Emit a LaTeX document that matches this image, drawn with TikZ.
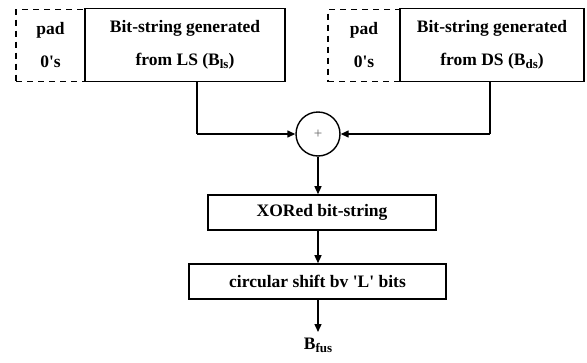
\documentclass[tikz,border=0pt]{standalone}
\usepackage{fontspec}
\setmainfont{Liberation Serif}
\usetikzlibrary{arrows.meta}
\newcommand{\mysub}[1]{\raisebox{-0.35ex}{\fontsize{13}{13}\selectfont #1}}
\begin{document}
\begin{tikzpicture}[x=1pt,y=-1pt,
  every node/.style={font=\bfseries\fontsize{17.5}{33}\selectfont},
  box/.style={draw,line width=1.6pt,inner sep=0pt},
  dbox/.style={draw,dash pattern=on 6pt off 5pt,line width=1.6pt,inner sep=0pt},
  conn/.style={line width=1.4pt},
  arr/.style={line width=1.4pt,-{Triangle[length=8pt,width=7pt]}}]
\useasboundingbox (0,0) rectangle (587,362);
% left group
\node[dbox,minimum width=69pt,minimum height=72pt,align=center] (padL) at (50.5,45.5) {pad\\0\textquotesingle s};
\node[box,minimum width=200pt,minimum height=73pt,align=center] (bL) at (185,45) {Bit-string generated\\from LS (B\mysub{ls})};
% right group
\node[dbox,minimum width=72pt,minimum height=72pt,align=center] (padR) at (364,45.5) {pad\\0\textquotesingle s};
\node[box,minimum width=184pt,minimum height=73pt,align=center] (bR) at (492,45) {Bit-string generated\\from DS (B\mysub{ds})};
% xor
\node[draw,circle,line width=1.4pt,minimum size=44pt,inner sep=0pt,font=\normalfont\fontsize{15}{15}\selectfont,text=black!60] (x) at (318,134) {+};
\coordinate (cl) at (197,134);
\coordinate (cr) at (490,134);
\draw[conn] (bL.south -| cl) -- (cl);
\draw[arr] (cl) -- (x.west);
\draw[conn] (bR.south -| cr) -- (cr);
\draw[arr] (cr) -- (x.east);
\node[box,minimum width=228pt,minimum height=35pt] (xr) at (322,212.5) {XORed bit-string};
\node[box,minimum width=257pt,minimum height=35pt] (cs) at (317.5,281.5) {circular shift bv \textquotesingle L\textquotesingle\ bits};
\node[inner sep=0pt,anchor=north] (out) at (318,338) {B\mysub{fus}};
\draw[arr] (x.south) -- (x.south |- xr.north);
\draw[arr] (x.south |- xr.south) -- (x.south |- cs.north);
\draw[arr,shorten >=6pt] (x.south |- cs.south) -- (out.north);
\end{tikzpicture}
\end{document}
